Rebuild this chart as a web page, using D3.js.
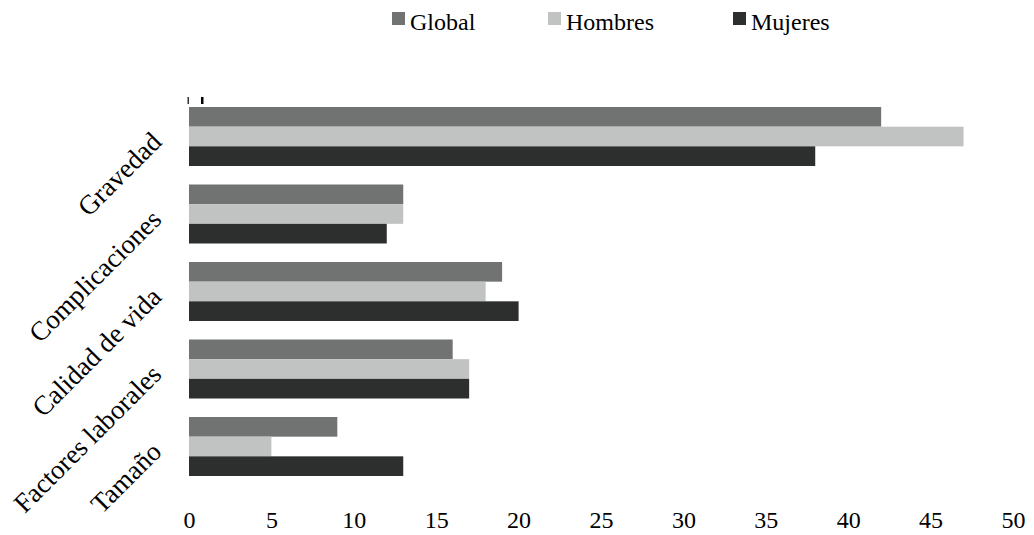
<!DOCTYPE html>
<html>
<head>
<meta charset="utf-8">
<script src="https://cdn.jsdelivr.net/npm/d3@7"></script>
<style>
  html, body { margin: 0; padding: 0; background: #fff; }
  svg { display: block; font-family: "Liberation Serif", "DejaVu Serif", serif; }
</style>
</head>
<body>
<svg id="chart" width="1034" height="535"></svg>
<script>
// Categories (top to bottom) and series values
const categories = ["Gravedad", "Complicaciones", "Calidad de vida", "Factores laborales", "Tamaño"];
const seriesNames = ["Global", "Hombres", "Mujeres"];
const globalValues = [42, 13, 19, 16, 9];
const hombresValues = [47, 13, 18, 17, 5];
const mujeresValues = [38, 12, 20, 17, 13];
const xTicks = [0, 5, 10, 15, 20, 25, 30, 35, 40, 45, 50];

const seriesValues = [globalValues, hombresValues, mujeresValues];
const colors = ["#717372", "#c1c3c2", "#2d2f2e"];

const svg = d3.select("#chart");

const x = d3.scaleLinear().domain([0, 50]).range([189, 1013]);
const y = d3.scaleBand().domain(categories)
  .range([97.75, 485.25]).paddingInner(0.2387).paddingOuter(0.11935);
const ySub = d3.scaleBand().domain(seriesNames).range([0, y.bandwidth()]);
const color = d3.scaleOrdinal().domain(seriesNames).range(colors);

// Bars
const rows = categories.map((c, i) => ({
  cat: c,
  vals: seriesNames.map((s, j) => ({ s, v: seriesValues[j][i] }))
}));

const groups = svg.append("g").selectAll("g").data(rows).join("g")
  .attr("transform", d => `translate(0,${y(d.cat)})`);

groups.selectAll("rect").data(d => d.vals).join("rect")
  .attr("x", x(0))
  .attr("y", d => ySub(d.s))
  .attr("width", d => x(d.v) - x(0))
  .attr("height", ySub.bandwidth())
  .attr("fill", d => color(d.s));

// Small marks above the plot's upper-left corner
svg.append("rect").attr("x", 187.5).attr("y", 97).attr("width", 1.5).attr("height", 7).attr("fill", "#333");
svg.append("rect").attr("x", 201).attr("y", 97).attr("width", 2.5).attr("height", 7).attr("fill", "#000");

// X axis (labels only)
const xAxis = d3.axisBottom(x).tickValues(xTicks).tickSize(0).tickPadding(0);
const gx = svg.append("g").attr("transform", "translate(0,500)").call(xAxis);
gx.select(".domain").remove();
gx.selectAll("text")
  .attr("dy", "0")
  .attr("y", 28)
  .attr("fill", "#000")
  .style("font-size", "24px")
  .style("font-family", "'Liberation Serif', serif");

// Category labels, rotated
svg.append("g").selectAll("text").data(categories).join("text")
  .attr("transform", d => `translate(163,${y(d) + y.bandwidth() / 2 + 7}) rotate(-45)`)
  .attr("text-anchor", "end")
  .attr("fill", "#000")
  .style("font-size", "27px")
  .text(d => d);

// Legend
const legendX = [392, 548, 733];
const legend = svg.append("g").selectAll("g").data(seriesNames).join("g")
  .attr("transform", (d, i) => `translate(${legendX[i]},12)`);
legend.append("rect").attr("width", 13).attr("height", 13).attr("fill", d => color(d));
legend.append("text").attr("x", 18).attr("y", 18)
  .attr("fill", "#000").style("font-size", "24px").text(d => d);
</script>
</body>
</html>
